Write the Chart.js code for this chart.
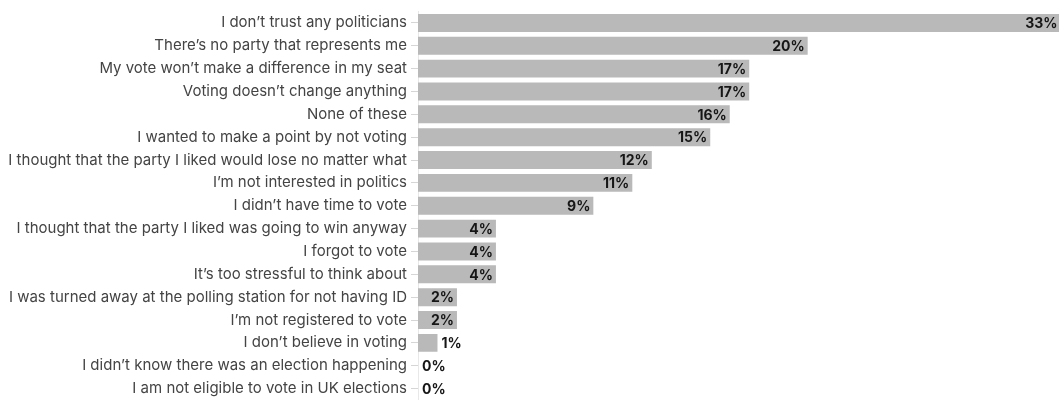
<!DOCTYPE html>
<html>
<head>
<meta charset="utf-8">
<script src="https://cdn.jsdelivr.net/npm/chart.js@4/dist/chart.umd.min.js"></script>
<style>
  html, body { margin: 0; padding: 0; background: #ffffff; }
  #wrap { width: 1059px; height: 400px; position: relative; }
</style>
</head>
<body>
<div id="wrap"><canvas id="c"></canvas></div>
<script>
const categories = [
  "I don\u2019t trust any politicians",
  "There\u2019s no party that represents me",
  "My vote won\u2019t make a difference in my seat",
  "Voting doesn\u2019t change anything",
  "None of these",
  "I wanted to make a point by not voting",
  "I thought that the party I liked would lose no matter what",
  "I\u2019m not interested in politics",
  "I didn\u2019t have time to vote",
  "I thought that the party I liked was going to win anyway",
  "I forgot to vote",
  "It\u2019s too stressful to think about",
  "I was turned away at the polling station for not having ID",
  "I\u2019m not registered to vote",
  "I don\u2019t believe in voting",
  "I didn\u2019t know there was an election happening",
  "I am not eligible to vote in UK elections"
];
const values = [33, 20, 17, 17, 16, 15, 12, 11, 9, 4, 4, 4, 2, 2, 1, 0, 0];
const valueLabels = values.map(v => v + "%");

const valueLabelPlugin = {
  id: 'valueLabels',
  afterDatasetsDraw(chart) {
    const ctx = chart.ctx;
    const meta = chart.getDatasetMeta(0);
    ctx.save();
    ctx.font = 'bold 14px Inter, "DejaVu Sans", sans-serif';
    ctx.fillStyle = '#161616';
    ctx.textBaseline = 'middle';
    meta.data.forEach((bar, i) => {
      const txt = valueLabels[i];
      const w = ctx.measureText(txt).width;
      const barW = bar.x - bar.base;
      if (w + 8 <= barW) {
        ctx.textAlign = 'right';
        ctx.fillText(txt, Math.min(bar.x - 3, chart.width - 1.5), bar.y + 1);
      } else {
        ctx.textAlign = 'left';
        ctx.fillText(txt, bar.x + 4, bar.y + 1);
      }
    });
    ctx.restore();
  }
};

function zeroPad(scale) {
  scale.paddingTop = -100;
  scale.paddingBottom = -100;
  scale.paddingLeft = -100;
  scale.paddingRight = -100;
}

new Chart(document.getElementById('c'), {
  type: 'bar',
  data: {
    labels: categories,
    datasets: [{
      data: values,
      backgroundColor: '#b9b9b9',
      borderWidth: 0,
      categoryPercentage: 1.0,
      barPercentage: 0.785
    }]
  },
  options: {
    indexAxis: 'y',
    responsive: true,
    maintainAspectRatio: false,
    animation: false,
    layout: { padding: { top: 11.5, bottom: -2.5, left: 0, right: 0 } },
    plugins: {
      legend: { display: false },
      tooltip: { enabled: false }
    },
    scales: {
      x: {
        display: false,
        min: 0,
        max: 32.9,
        afterFit: zeroPad
      },
      y: {
        afterFit(scale) {
          scale.width = 418;
          zeroPad(scale);
        },
        grid: {
          display: true,
          drawOnChartArea: false,
          drawTicks: true,
          tickLength: 7,
          offset: false,
          color: '#d6d6d6'
        },
        border: { display: true, color: '#e8e8e8', width: 1 },
        ticks: {
          color: '#444444',
          padding: 4,
          autoSkip: false,
          font: { family: 'Inter, "DejaVu Sans", sans-serif', size: 15 }
        }
      }
    }
  },
  plugins: [valueLabelPlugin]
});
</script>
</body>
</html>
